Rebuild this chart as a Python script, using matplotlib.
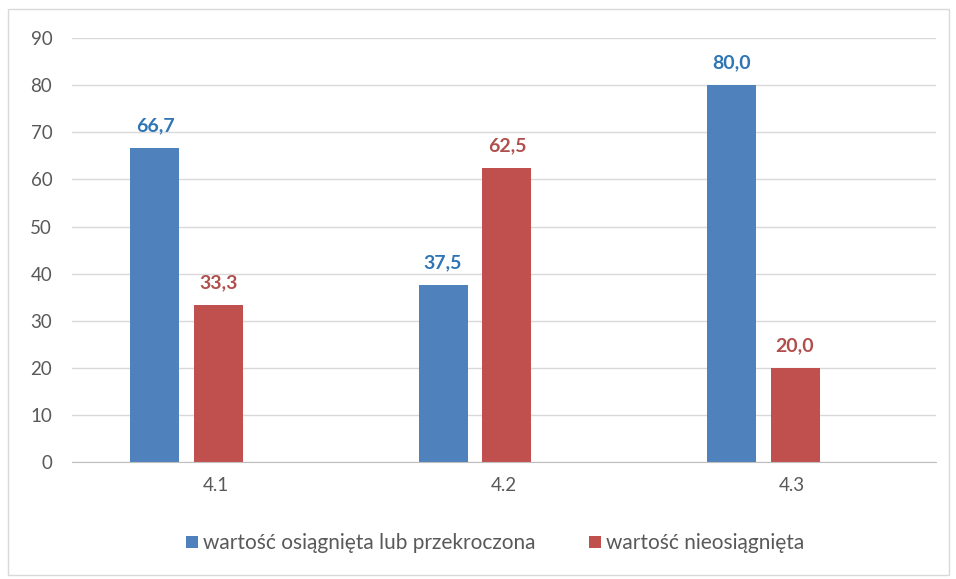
import numpy as np
import matplotlib
matplotlib.use("Agg")
import matplotlib.pyplot as plt
from matplotlib.patches import Rectangle

categories = ["4.1", "4.2", "4.3"]
achieved = [66.7, 37.5, 80.0]
not_achieved = [33.3, 62.5, 20.0]
series_names = ["wartość osiągnięta lub przekroczona", "wartość nieosiągnięta"]

BLUE = "#4F81BD"
RED = "#C0504D"
BLUE_TXT = "#2E75B6"
RED_TXT = "#B0504E"
GRAY = "#595959"

plt.rcParams["font.family"] = ["Lato", "DejaVu Sans"]

fig = plt.figure(figsize=(9.56, 5.79), dpi=100)
ax = fig.add_axes([0.075, 0.202, 0.904, 0.732])

x = np.arange(len(categories))
shift = -0.10   # bar groups sit a bit left of the labels in the original
w = 0.17
off = 0.111

b1 = ax.bar(x + shift - off, achieved, w, color=BLUE, label=series_names[0], zorder=3)
b2 = ax.bar(x + shift + off, not_achieved, w, color=RED, label=series_names[1], zorder=3)

def fmt(v):
    return f"{v:.1f}".replace(".", ",")

for bars, vals, c in [(b1, achieved, BLUE_TXT), (b2, not_achieved, RED_TXT)]:
    for rect, v in zip(bars, vals):
        ax.annotate(fmt(v), (rect.get_x() + rect.get_width() / 2, v),
                    xytext=(0, 10), textcoords="offset points",
                    ha="center", va="bottom", fontsize=14, fontweight="bold", color=c)

ax.set_xlim(-0.5, 2.5)
ax.set_ylim(0, 90)
ax.set_yticks(np.arange(0, 91, 10))
ax.set_xticks(x)
ax.set_xticklabels(categories)
ax.tick_params(axis="both", length=0, labelsize=13.5, colors=GRAY)
ax.tick_params(axis="y", pad=14)
ax.tick_params(axis="x", pad=11)
ax.grid(axis="y", color="#D9D9D9", linewidth=1, zorder=0)
for s in ["top", "right", "left"]:
    ax.spines[s].set_visible(False)
ax.spines["bottom"].set_color("#BFBFBF")
ax.spines["bottom"].set_zorder(4)

fig.legend(loc="lower center", bbox_to_anchor=(0.518, 0.012), ncol=2, frameon=False,
           fontsize=15, labelcolor=GRAY, handlelength=0.55, handleheight=0.55,
           handletextpad=0.25, columnspacing=2.6)

fig.patches.append(Rectangle((0.008, 0.007), 0.985, 0.977, transform=fig.transFigure,
                             fill=False, edgecolor="#D9D9D9", linewidth=1))

fig.savefig("out.png", dpi=100)
